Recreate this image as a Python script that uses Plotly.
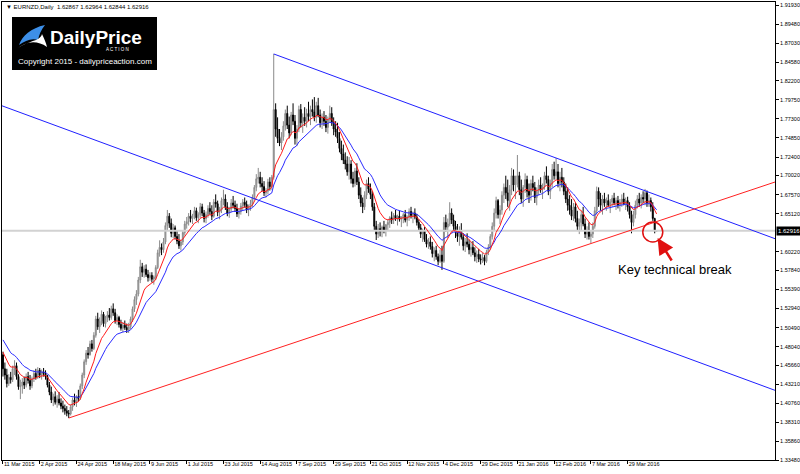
import plotly.graph_objects as go

# ---------------- data (prices in units of 0.0001) ----------------
first_open = 14700
highs = [
 14740,14600,14520,14450,14480,14560,14630,14600,14450,14380,
 14400,14420,14460,14480,14440,14420,14500,14520,14540,14530,
 14510,14530,14500,14440,14350,14290,14200,14230,14180,14220,
 14140,14110,14060,14040,13990,14060,14150,14200,14180,14250,
 14330,14470,14640,14760,14800,14880,14890,14990,15200,15240,
 15180,15270,15250,15200,15260,15300,15330,15360,15290,15220,
 15200,15150,15120,15140,15100,15110,15190,15320,15450,15530,
 15700,15920,15880,15850,15860,15790,15760,15760,15720,15850,
 16050,16170,16130,16200,16400,16560,16520,16450,16380,16360,
 16300,16250,16180,16300,16420,16470,16520,16560,16510,16600,
 16590,16530,16650,16640,16560,16540,16620,16660,16620,16700,
 16760,16680,16600,16720,16820,16760,16660,16600,16700,16740,
 16680,16640,16580,16650,16700,16720,16680,16630,16690,16760,
 16880,17020,17100,17050,16980,16930,16840,16960,16980,17010,
 18564,17930,17750,17600,17560,17700,17850,17900,17760,17820,
 17930,17780,17650,17900,17920,17800,17880,17860,17950,17900,
 17980,18010,17950,18000,17850,17800,17830,17780,17760,17900,
 17880,17750,17700,17680,17560,17450,17400,17300,17250,17240,
 17200,17050,17100,17160,16980,16850,16720,16800,16950,16980,
 16900,16800,16650,16420,16380,16400,16360,16420,16380,16440,
 16480,16540,16520,16560,16500,16550,16480,16520,16560,16490,
 16580,16600,16540,16580,16510,16440,16380,16320,16340,16250,
 16200,16220,16150,16080,16100,16000,16050,16100,16470,16500,
 16450,16660,16580,16500,16420,16380,16350,16390,16260,16200,
 16260,16180,16150,16160,16080,16040,16060,15990,16010,15980,
 16050,16120,16250,16400,16580,16730,16700,16620,16800,16900,
 17000,16950,16880,17100,17080,17000,17266,17050,16950,16880,
 17030,17000,16900,16950,17000,16920,16850,16950,16980,16900,
 17050,17120,17000,16950,17150,17180,17228,17150,17050,17100,
 16980,16900,16850,16750,16700,16650,16650,16550,16450,16550,
 16600,16450,16350,16400,16300,16400,16600,16860,16850,16780,
 16750,16780,16720,16760,16700,16750,16780,16720,16740,16700,
 16760,16780,16720,16730,16660,16550,16550,16680,16750,16780,
 16760,16800,16830,16810,16760,16720,16660,16460,16296.4,
]
lows = [
 14420,14380,14280,14300,14330,14350,14440,14380,14250,14130,
 14200,14260,14280,14330,14250,14270,14350,14380,14390,14400,
 14380,14420,14380,14280,14180,14080,14040,14060,14020,14050,
 14000,13960,13930,13910,13887,13920,13980,14050,14030,14100,
 14120,14260,14400,14570,14650,14690,14740,14760,14920,15020,
 14980,15080,15060,15050,15120,15140,15150,15200,15100,15080,
 15050,15010,14990,15020,14980,14980,15030,15120,15250,15340,
 15450,15620,15700,15690,15700,15640,15650,15630,15600,15660,
 15800,15960,15980,16010,16120,16300,16330,16210,16200,16180,
 16120,16060,16040,16110,16230,16320,16360,16400,16380,16440,
 16420,16390,16460,16480,16400,16390,16460,16500,16430,16460,
 16590,16480,16440,16520,16620,16560,16480,16460,16530,16580,
 16540,16470,16450,16500,16560,16590,16520,16480,16550,16600,
 16690,16800,16900,16850,16800,16740,16720,16760,16810,16820,
 16950,17500,17420,17380,17330,17450,17580,17600,17480,17520,
 17650,17400,17380,17560,17620,17550,17640,17620,17700,17650,
 17760,17700,17680,17750,17620,17600,17640,17560,17540,17680,
 17640,17520,17500,17420,17300,17200,17150,17080,17000,16950,
 16900,16850,16860,16880,16700,16600,16520,16560,16700,16780,
 16700,16550,16300,16174,16200,16220,16210,16260,16220,16290,
 16330,16380,16380,16420,16360,16410,16340,16390,16400,16350,
 16420,16450,16390,16440,16360,16290,16200,16150,16150,16080,
 16060,16050,15950,15900,15920,15850,15880,15790,15880,16280,
 16200,16350,16380,16300,16200,16150,16100,16180,16040,16020,
 16080,15990,15960,15980,15900,15880,15890,15860,15880,15850,
 15880,15980,16050,16180,16300,16450,16450,16380,16500,16650,
 16700,16600,16550,16750,16800,16700,16850,16750,16650,16600,
 16780,16720,16650,16680,16800,16650,16620,16750,16780,16700,
 16820,16900,16750,16700,16850,16950,16950,16850,16800,16850,
 16750,16650,16550,16500,16430,16420,16400,16300,16250,16300,
 16350,16200,16180,16180,16135,16200,16320,16500,16600,16550,
 16500,16600,16550,16600,16520,16600,16620,16560,16580,16540,
 16600,16620,16560,16540,16450,16260,16350,16450,16580,16600,
 16580,16650,16620,16600,16600,16540,16420,16260,16284.4,
]
closes = [
 14520,14440,14330,14410,14380,14520,14560,14420,14290,14300,
 14350,14310,14420,14370,14300,14390,14460,14410,14500,14440,
 14480,14460,14420,14310,14220,14120,14160,14090,14130,14080,
 14040,14010,13980,13950,13940,14030,14120,14090,14160,14140,
 14300,14440,14610,14720,14700,14840,14780,14950,15160,15060,
 15130,15220,15100,15170,15210,15180,15290,15240,15140,15180,
 15090,15040,15080,15050,15020,15060,15160,15290,15410,15480,
 15660,15830,15760,15800,15730,15690,15720,15670,15700,15820,
 16010,16080,16050,16150,16360,16480,16390,16260,16330,16220,
 16160,16100,16150,16270,16380,16410,16480,16450,16490,16550,
 16460,16500,16600,16520,16450,16500,16580,16540,16480,16660,
 16640,16530,16560,16680,16700,16600,16520,16570,16650,16620,
 16580,16510,16540,16610,16660,16630,16560,16600,16640,16720,
 16850,16960,16980,16900,16860,16780,16800,16920,16860,16980,
 17850,17600,17480,17420,17500,17640,17800,17650,17550,17780,
 17700,17480,17600,17850,17680,17750,17700,17800,17760,17850,
 17820,17750,17900,17780,17680,17750,17700,17620,17720,17800,
 17680,17600,17560,17480,17350,17280,17200,17150,17050,17150,
 16960,16900,17060,16920,16750,16650,16600,16750,16900,16830,
 16760,16600,16350,16250,16320,16280,16340,16300,16370,16400,
 16460,16430,16490,16450,16480,16440,16460,16500,16430,16470,
 16540,16490,16520,16470,16400,16330,16250,16290,16180,16120,
 16150,16090,16000,16040,15960,15900,15980,15900,16400,16340,
 16380,16520,16430,16350,16280,16220,16300,16210,16100,16150,
 16120,16050,16080,16010,15960,15990,15930,15920,15950,15900,
 16020,16080,16220,16350,16520,16680,16500,16560,16750,16850,
 16780,16680,16820,17000,16880,16900,17000,16820,16700,16850,
 16950,16800,16750,16900,16850,16720,16800,16880,16820,16860,
 17000,16950,16800,16900,17080,17000,17050,16900,16980,16920,
 16800,16700,16620,16560,16480,16600,16450,16350,16400,16500,
 16380,16250,16300,16220,16250,16350,16550,16800,16700,16620,
 16700,16650,16680,16620,16660,16710,16650,16680,16620,16660,
 16700,16640,16680,16600,16500,16400,16500,16620,16700,16650,
 16720,16700,16780,16650,16680,16600,16450,16287,16291.6,
]

tick_labels = ["11 Mar 2015", "2 Apr 2015", "24 Apr 2015", "18 May 2015", "9 Jun 2015",
               "1 Jul 2015", "23 Jul 2015", "14 Aug 2015", "7 Sep 2015", "29 Sep 2015",
               "21 Oct 2015", "12 Nov 2015", "4 Dec 2015", "29 Dec 2015", "21 Jan 2016",
               "12 Feb 2016", "7 Mar 2016", "29 Mar 2016"]
bars_per_label = 19

price_ticks = [1.91930, 1.89480, 1.87030, 1.84580, 1.82200, 1.79750, 1.77300, 1.74850,
               1.72400, 1.70020, 1.67570, 1.65120, 1.60220, 1.57840, 1.55390,
               1.52940, 1.50490, 1.48040, 1.45660, 1.43210, 1.40760, 1.38310, 1.35860, 1.33480]
current_price = 1.62916
header_text = "▼ EURNZD,Daily  1.62867 1.62964 1.62844 1.62916"

ema_red_period, ema_red_seed = 10, 1.4780
ema_blue_period, ema_blue_seed = 20, 1.4930

# user-drawn lines (bar index, price)
red_trend_x, red_trend_y = [34, 399.2], [1.3887, 1.6919]
blue_upper_x, blue_upper_y = [140, 399.2], [1.8564, 1.6191]
blue_lower_x, blue_lower_y = [-0.5, 399.2], [1.7898, 1.4243]
break_bar, break_price = 336, 1.6277

# ---------------- build ----------------
S = 10000.0
C = [c / S for c in closes]
O = [first_open / S] + C[:-1]
H = [max(h / S, o, c) for h, o, c in zip(highs, O, C)]
L = [min(l / S, o, c) for l, o, c in zip(lows, O, C)]
x = list(range(len(C)))

def ema(values, period, seed):
    a = 2.0 / (period + 1)
    out, prev = [], seed
    for v in values:
        prev = prev + a * (v - prev)
        out.append(prev)
    return out

ema_red = ema(C, ema_red_period, ema_red_seed)
ema_blue = ema(C, ema_blue_period, ema_blue_seed)

W, HT = 800, 474
ML, MR, MT, MB = 2, 25, 2, 14
PW, PH = W - ML - MR, HT - MT - MB
def px(v):
    return (v - ML) / PW
def py(v):
    return (HT - MB - v) / PH

XMIN, XMAX = -0.5, 399.2
YMIN, YMAX = 1.3348, 1.92315
px_per_bar = PW / (XMAX - XMIN)
px_per_unit = PH / (YMAX - YMIN)

fig = go.Figure()
fig.add_trace(go.Scatter(x=[XMIN, XMAX], y=[current_price, current_price], mode="lines",
                         line=dict(color="#d2d2d2", width=2), hoverinfo="skip"))
fig.add_trace(go.Candlestick(x=x, open=O, high=H, low=L, close=C,
                             increasing=dict(line=dict(color="#8a8a8a", width=1), fillcolor="#b5b5b5"),
                             decreasing=dict(line=dict(color="#000000", width=1), fillcolor="#000000"),
                             whiskerwidth=0))
fig.add_trace(go.Scatter(x=x, y=ema_blue, mode="lines", line=dict(color="#2b2bff", width=1)))
fig.add_trace(go.Scatter(x=x, y=ema_red, mode="lines", line=dict(color="#ff1a1a", width=1)))
fig.add_trace(go.Scatter(x=blue_upper_x, y=blue_upper_y, mode="lines", line=dict(color="#2020ff", width=1)))
fig.add_trace(go.Scatter(x=blue_lower_x, y=blue_lower_y, mode="lines", line=dict(color="#2020ff", width=1)))
fig.add_trace(go.Scatter(x=red_trend_x, y=red_trend_y, mode="lines", line=dict(color="#ff2020", width=1)))

shapes = []
rx, ry = 10 / px_per_bar, 10 / px_per_unit
shapes.append(dict(type="circle", xref="x", yref="y", x0=break_bar - rx, x1=break_bar + rx,
                   y0=break_price - ry, y1=break_price + ry, line=dict(color="#e01010", width=1.5)))
shapes.append(dict(type="rect", xref="paper", yref="paper", x0=px(12), x1=px(157), y0=py(70), y1=py(17),
                   fillcolor="#000000", line=dict(width=0), layer="above"))
def path(pts):
    s = "M %f,%f " % (px(pts[0][0]), py(pts[0][1]))
    for i in range(1, len(pts), 3):
        a, b, c = pts[i], pts[i + 1], pts[i + 2]
        s += "C %f,%f %f,%f %f,%f " % (px(a[0]), py(a[1]), px(b[0]), py(b[1]), px(c[0]), py(c[1]))
    return s + "Z"
wing = [(19, 45), (22, 36), (31, 28), (45, 25), (41, 30), (39, 35), (38, 40), (31, 38), (25, 41), (19, 45)]
wave = [(17, 49), (26, 41), (37, 40), (47, 47), (46, 43), (44, 38), (42, 34), (40, 42), (28, 40), (17, 49)]
shapes.append(dict(type="path", xref="paper", yref="paper", path=path(wing),
                   fillcolor="#3d8fe8", line=dict(width=0), layer="above"))
shapes.append(dict(type="path", xref="paper", yref="paper", path=path(wave),
                   fillcolor="#ffffff", line=dict(width=0), layer="above"))

ann = []
ann.append(dict(xref="paper", yref="paper", x=px(4), y=py(7), text=header_text, showarrow=False,
                xanchor="left", yanchor="middle", font=dict(family="Liberation Sans", size=6, color="#000")))
ann.append(dict(xref="paper", yref="paper", x=px(96), y=py(37), text="<b>DailyPrice</b>", showarrow=False,
                xanchor="center", yanchor="middle", font=dict(family="Liberation Sans", size=19, color="#fff")))
ann.append(dict(xref="paper", yref="paper", x=px(117), y=py(49.5), text="A C T I O N", showarrow=False,
                xanchor="center", yanchor="middle", font=dict(family="Liberation Sans", size=4.5, color="#fff")))
ann.append(dict(xref="paper", yref="paper", x=px(84.5), y=py(61.5), text="Copyright 2015 - dailypriceaction.com",
                showarrow=False, xanchor="center", yanchor="middle",
                font=dict(family="Liberation Sans", size=8, color="#fff")))
ann.append(dict(xref="paper", yref="y", x=1.0, y=current_price, text="1.62916", showarrow=False,
                xanchor="left", yanchor="middle", xshift=1, bgcolor="#000", borderpad=1,
                font=dict(family="Liberation Sans", size=6, color="#fff")))
ann.append(dict(xref="paper", yref="paper", x=px(675), y=py(269), text="Key technical break", showarrow=False,
                xanchor="center", yanchor="middle", font=dict(family="Liberation Sans", size=13, color="#000")))
ann.append(dict(xref="x", yref="y", x=break_bar + 2.5, y=break_price - 6 / px_per_unit, text="",
                showarrow=True, ax=15, ay=24, arrowcolor="#e01010", arrowwidth=2.5, arrowhead=2,
                arrowsize=1.3))

fig.update_layout(
    width=W, height=HT, margin=dict(l=ML, r=MR, t=MT, b=MB, autoexpand=False),
    paper_bgcolor="#ffffff", plot_bgcolor="#ffffff", showlegend=False,
    shapes=shapes, annotations=ann, hovermode=False,
    xaxis=dict(range=[XMIN, XMAX], rangeslider=dict(visible=False), showgrid=False, zeroline=False,
               tickvals=[i * bars_per_label for i in range(len(tick_labels))], ticktext=tick_labels,
               ticks="outside", ticklen=3, tickcolor="#000", ticklabelposition="outside right",
               tickangle=0, ticklabelstandoff=-2,
               tickfont=dict(family="Liberation Sans", size=5.5, color="#000"),
               showline=True, linecolor="#000", linewidth=1, mirror=True),
    yaxis=dict(range=[YMIN, YMAX], side="right", showgrid=False, zeroline=False,
               tickvals=price_ticks, ticktext=["%.5f" % v for v in price_ticks],
               ticks="outside", ticklen=3, tickcolor="#000",
               tickfont=dict(family="Liberation Sans", size=5.5, color="#000"),
               showline=True, linecolor="#000", linewidth=1, mirror=True),
)
fig.write_html("out.html", config={"displayModeBar": False},
               post_script="document.body.style.margin='0';document.body.style.padding='0';")
